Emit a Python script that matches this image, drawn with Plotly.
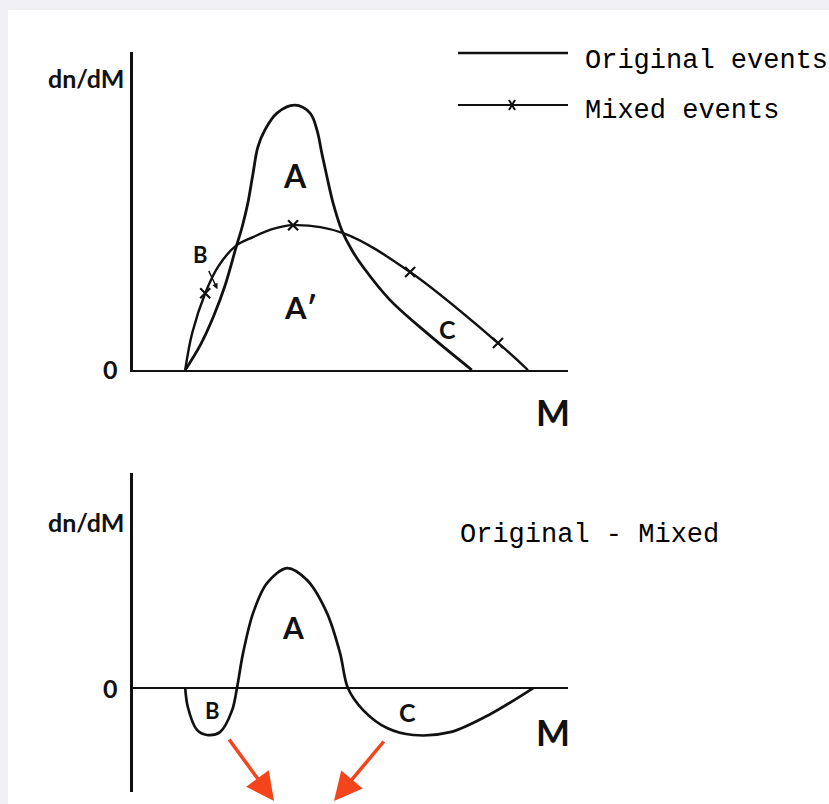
import plotly.graph_objects as go

# ---------------- data (arbitrary units) ----------------
# Top panel: original and mixed-event mass spectra
orig_m = [1.20, 1.55, 1.85, 2.12, 2.37, 2.51, 2.64, 2.76, 2.87, 3.03, 3.31, 3.72, 4.07, 4.23, 4.34, 4.46, 4.60, 4.80, 5.03, 5.29, 5.91, 6.76, 7.79]
orig_v = [0.00, 0.80, 1.70, 2.70, 3.90, 4.55, 5.30, 6.25, 7.08, 7.62, 8.16, 8.41, 8.16, 7.62, 6.89, 6.13, 5.30, 4.44, 3.81, 3.27, 2.22, 1.17, 0.00]

mixed_m = [1.20, 1.36, 1.66, 1.95, 2.37, 2.76, 3.15, 3.68, 4.83, 6.37, 8.39, 9.08]
mixed_v = [0.00, 1.17, 2.44, 3.27, 3.95, 4.22, 4.45, 4.60, 4.35, 3.11, 0.86, 0.00]

mixed_mark_m = [1.66, 3.68, 6.37, 8.39]
mixed_mark_v = [2.44, 4.60, 3.11, 0.86]

# Bottom panel: Original - Mixed
diff_m = [1.20, 1.26, 1.47, 1.70, 2.00, 2.28, 2.39, 2.53, 2.76, 3.08, 3.54, 4.00, 4.46, 4.76, 4.94, 5.29, 5.84, 6.44, 7.29, 8.21, 9.20]
diff_v = [0.00, -0.60, -1.33, -1.49, -1.40, -0.70, 0.00, 1.11, 2.38, 3.33, 3.81, 3.43, 2.38, 1.11, 0.00, -0.70, -1.27, -1.49, -1.40, -0.83, 0.00]

legend_labels = ["Original events", "Mixed events"]
diff_label = "Original - Mixed"

# ---------------- figure ----------------
W, H = 829, 804
INK = "#111111"
SANS = "Lato"
MONO = "Liberation Mono"

def px(x):
    return x / W

def py(y):
    return 1 - y / H

fig = go.Figure()

fig.add_trace(go.Scatter(x=orig_m, y=orig_v, mode="lines", line=dict(color=INK, width=2.8, shape="spline", smoothing=1),
                         xaxis="x", yaxis="y", showlegend=False, hoverinfo="skip"))
fig.add_trace(go.Scatter(x=mixed_m, y=mixed_v, mode="lines", line=dict(color=INK, width=2.4, shape="spline", smoothing=1),
                         xaxis="x", yaxis="y", showlegend=False, hoverinfo="skip"))
fig.add_trace(go.Scatter(x=mixed_mark_m, y=mixed_mark_v, mode="markers",
                         marker=dict(symbol="x-thin", size=10, line=dict(color=INK, width=2.2)),
                         xaxis="x", yaxis="y", showlegend=False, hoverinfo="skip"))
fig.add_trace(go.Scatter(x=diff_m, y=diff_v, mode="lines", line=dict(color=INK, width=2.7, shape="spline", smoothing=0.9),
                         xaxis="x2", yaxis="y2", showlegend=False, hoverinfo="skip"))

axis_common = dict(showgrid=False, showticklabels=False, ticks="", fixedrange=True)

fig.update_layout(
    width=W, height=H, autosize=False,
    margin=dict(l=0, r=0, t=0, b=0),
    paper_bgcolor="#efeff4",
    plot_bgcolor="rgba(0,0,0,0)",
    xaxis=dict(domain=[px(133), px(568)], range=[0, 10], anchor="y",
               showline=True, linecolor=INK, linewidth=2.2, zeroline=False, **axis_common),
    yaxis=dict(domain=[py(370), py(52)], range=[0, 10.1], anchor="x",
               showline=True, linecolor=INK, linewidth=3, zeroline=False, **axis_common),
    xaxis2=dict(domain=[px(133), px(568)], range=[0, 10], anchor="y2",
                showline=False, zeroline=False, **axis_common),
    yaxis2=dict(domain=[py(792), py(473)], range=[-3.30, 6.83], anchor="x2",
                showline=True, linecolor=INK, linewidth=3,
                zeroline=True, zerolinecolor=INK, zerolinewidth=2.2, **axis_common),
)

# white page panel
shapes = [dict(type="rect", xref="paper", yref="paper", x0=px(8), x1=1, y0=0, y1=py(10),
               fillcolor="white", line=dict(width=0), layer="below")]
# legend sample lines
shapes.append(dict(type="line", xref="paper", yref="paper", x0=px(458), x1=px(568), y0=py(53), y1=py(53),
                   line=dict(color=INK, width=2.4)))
shapes.append(dict(type="line", xref="paper", yref="paper", x0=px(458), x1=px(568), y0=py(105), y1=py(105),
                   line=dict(color=INK, width=2.2)))
shapes.append(dict(type="line", xref="paper", yref="paper", x0=px(509), x1=px(515), y0=py(100), y1=py(110),
                   line=dict(color=INK, width=2)))
shapes.append(dict(type="line", xref="paper", yref="paper", x0=px(515), x1=px(509), y0=py(100), y1=py(110),
                   line=dict(color=INK, width=2)))
fig.update_layout(shapes=shapes)

ann = []
def label(text, x, y, size, xr="x", yr="y", xanchor="center", font=SANS, weight="bold"):
    ann.append(dict(text=text, x=x, y=y, xref=xr, yref=yr, showarrow=False, xanchor=xanchor, yanchor="middle",
                    font=dict(family=font, size=size, color=INK, weight=weight)))

# axis captions (outside plotting area -> paper coordinates)
label("dn/dM", px(126), py(78), 25, xr="paper", yr="paper", xanchor="right")
label("0", px(110), py(369), 25, xr="paper", yr="paper")
label("M", px(553), py(412), 36, xr="paper", yr="paper")
label("dn/dM", px(126), py(522), 25, xr="paper", yr="paper", xanchor="right")
label("0", px(110), py(688), 25, xr="paper", yr="paper")
label("M", px(553), py(732), 36, xr="paper", yr="paper")

# top panel region labels
label("A", 3.72, 6.19, 32)
label("A′", 3.84, 2.00, 31)
label("C", 7.22, 1.30, 25)
ann.append(dict(text="B", x=1.95, y=2.54, xref="x", yref="y", showarrow=True, ax=-17, ay=-36,
                arrowhead=2, arrowsize=0.8, arrowwidth=1.4, arrowcolor=INK, standoff=1, startstandoff=2,
                font=dict(family=SANS, size=22, color=INK, weight="bold")))

# bottom panel region labels
label("A", 3.68, 1.94, 30, xr="x2", yr="y2")
label("B", 1.82, -0.70, 22, xr="x2", yr="y2")
label("C", 6.30, -0.76, 25, xr="x2", yr="y2")
ann.append(dict(text=diff_label, x=px(458), y=py(535), xref="paper", yref="paper", showarrow=False,
                xanchor="left", yanchor="middle", font=dict(family=MONO, size=27, color="#000000")))

# legend texts
ann.append(dict(text=legend_labels[0], x=px(583), y=py(61), xref="paper", yref="paper", showarrow=False,
                xanchor="left", yanchor="middle", font=dict(family=MONO, size=27, color="#000000")))
ann.append(dict(text=legend_labels[1], x=px(583), y=py(111), xref="paper", yref="paper", showarrow=False,
                xanchor="left", yanchor="middle", font=dict(family=MONO, size=27, color="#000000")))

# red highlight arrows
RED = "#f4441b"
ann.append(dict(text="", x=px(274), y=py(801), xref="paper", yref="paper", showarrow=True, ax=-46, ay=-63,
                arrowhead=2, arrowsize=1.6, arrowwidth=3.5, arrowcolor=RED))
ann.append(dict(text="", x=px(334), y=py(801), xref="paper", yref="paper", showarrow=True, ax=51, ay=-61,
                arrowhead=2, arrowsize=1.6, arrowwidth=3.5, arrowcolor=RED))

fig.update_layout(annotations=ann)

fig.write_html("out.html", config={"displayModeBar": False},
               post_script="document.body.style.margin='0px';")
